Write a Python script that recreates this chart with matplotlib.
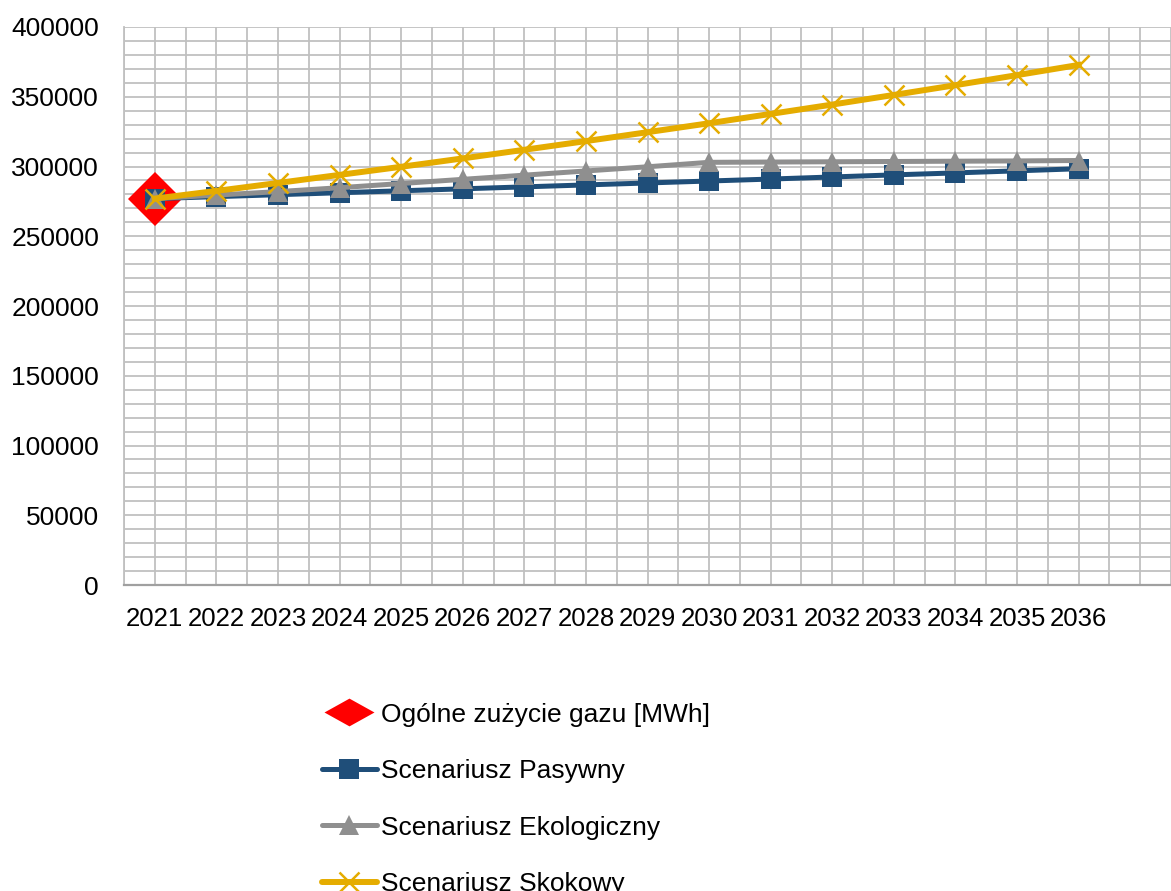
import matplotlib
matplotlib.use("Agg")
import matplotlib.pyplot as plt
from matplotlib.lines import Line2D
from matplotlib.path import Path
import numpy as np

plt.rcParams['font.family'] = ['Liberation Sans', 'DejaVu Sans']

# data
years = [2021, 2022, 2023, 2024, 2025, 2026, 2027, 2028,
         2029, 2030, 2031, 2032, 2033, 2034, 2035, 2036]
ogolne = [277000]  # only the base year
pasywny = [277000, 278400, 279800, 281200, 282600, 284000, 285400, 286800,
           288200, 289600, 291000, 292500, 294000, 295400, 296900, 298400]
ekologiczny = [277000, 279500, 282000, 284800, 287800, 290800, 293800, 296800,
               299800, 303000, 303200, 303400, 303600, 303800, 304000, 304300]
skokowy = [277000, 282500, 288200, 294000, 299800, 305800, 312000, 318200,
           324600, 331000, 337700, 344400, 351300, 358300, 365500, 372800]

labels = ['Ogólne zużycie gazu [MWh]', 'Scenariusz Pasywny',
          'Scenariusz Ekologiczny', 'Scenariusz Skokowy']

c_red = '#FF0000'
c_blue = '#1F4E79'
c_gray = '#8F8F8F'
c_gold = '#E5AC00'
c_grid = '#C0C0C0'

fig = plt.figure(figsize=(11.71, 8.91), dpi=100)
ax = fig.add_axes([0.1059, 0.3434, 0.8941, 0.6263])

ax.plot(years[:1], ogolne, linestyle='none', marker='D', markersize=27,
        color=c_red, markeredgewidth=0, zorder=3)
ax.plot(years, pasywny, color=c_blue, lw=3.6, marker='s', markersize=14,
        markeredgewidth=0, zorder=4)
ax.plot(years, ekologiczny, color=c_gray, lw=3.6, marker='^', markersize=15,
        markeredgewidth=0, zorder=5)
ax.plot(years, skokowy, color=c_gold, lw=4.3, marker='x', markersize=14,
        markeredgewidth=1.8, zorder=6)

# axes
ax.set_xlim(2020.5, 2037.4)
ax.set_ylim(0, 400000)
ax.set_xticks(years)
ax.set_xticklabels([str(y) for y in years])
ax.set_xticks(np.arange(2020.5, 2038, 0.5), minor=True)
ax.set_yticks(np.arange(0, 400001, 50000))
ax.set_yticks(np.arange(0, 400001, 10000), minor=True)
ax.grid(True, which='both', color=c_grid, lw=1.3, zorder=0)
ax.set_axisbelow(True)
ax.tick_params(which='both', length=0)
ax.tick_params(axis='x', labelsize=18.5, pad=16)
ax.tick_params(axis='y', labelsize=19, pad=18)
for s in ['top', 'right']:
    ax.spines[s].set_visible(False)
ax.spines['left'].set_color(c_grid)
ax.spines['left'].set_linewidth(1.3)
ax.spines['bottom'].set_color('#A0A0A0')
ax.spines['bottom'].set_linewidth(1.6)

# legend
flat_diamond = Path([(0, 1), (-1.8, 0), (0, -1), (1.8, 0), (0, 1)],
                    [Path.MOVETO, Path.LINETO, Path.LINETO, Path.LINETO, Path.CLOSEPOLY])
handles = [
    Line2D([], [], linestyle='none', marker=flat_diamond, markersize=36,
           color=c_red, markeredgewidth=0),
    Line2D([], [], color=c_blue, lw=3.6, marker='s', markersize=14,
           markeredgewidth=0, solid_capstyle='round'),
    Line2D([], [], color=c_gray, lw=3.6, marker='^', markersize=15,
           markeredgewidth=0, solid_capstyle='round'),
    Line2D([], [], color=c_gold, lw=4.3, marker='x', markersize=14,
           markeredgewidth=1.8, solid_capstyle='round'),
]
fig.legend(handles, labels, loc='upper left', bbox_to_anchor=(0.275, 0.2115),
           frameon=False, fontsize=19, handlelength=2.08, handletextpad=0.15,
           labelspacing=1.235, borderpad=0, borderaxespad=0)

fig.savefig('out.png', dpi=100)
